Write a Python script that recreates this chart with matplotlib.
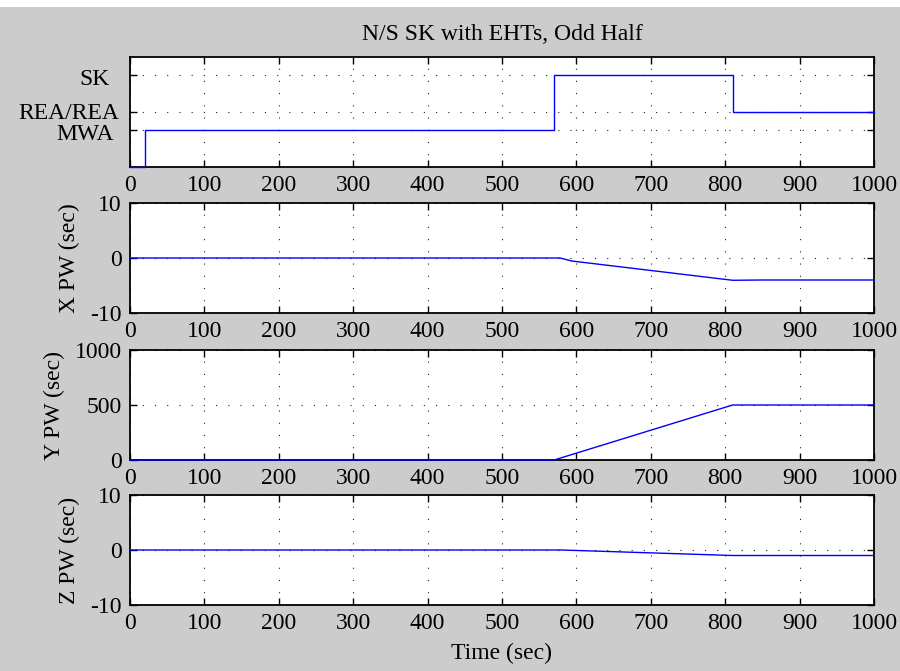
import matplotlib.pyplot as plt
import matplotlib.transforms as mtransforms
import numpy as np
from matplotlib.patches import Rectangle

plt.rcParams["font.family"] = ["Liberation Serif", "DejaVu Serif"]
plt.rcParams["font.size"] = 17
plt.rcParams["axes.unicode_minus"] = False

# mode trace (step): 0 -> MWA -> SK -> REA/REA
mode_t = [0, 20, 20, 570, 570, 810, 810, 1000]
mode_v = [0, 0, 2, 2, 5, 5, 3, 3]
mode_ticks = [2, 3, 5]
mode_labels = ["MWA", "REA/REA", "SK"]

# X PW (sec)
x_t = [0, 578, 594, 810, 850, 1000]
x_v = [0, 0, -0.55, -4.05, -4.0, -4.0]

# Y PW (sec)
y_t = [0, 570, 810, 1000]
y_v = [0, 0, 500, 500]

# Z PW (sec)
z_t = [0, 580, 810, 1000]
z_v = [0, 0, -1.0, -1.0]

xticks = list(range(0, 1001, 100))

W, H = 900, 671
fig = plt.figure(figsize=(W / 100, H / 100), dpi=100, facecolor="#cccccc")
fig.patches.append(Rectangle((0, 1 - 7 / H), 1, 7 / H, transform=fig.transFigure,
                             facecolor="white", edgecolor="none", zorder=-1))

left, right = 130 / W, 874 / W
boxes = [(57, 167), (203, 313), (350, 460), (495, 605)]
axes = []
for top, bot in boxes:
    ax = fig.add_axes([left, 1 - bot / H, right - left, (bot - top) / H])
    axes.append(ax)

series = [
    (mode_t, mode_v, (0, 6), mode_ticks, None),
    (x_t, x_v, (-10, 10), [-10, 0, 10], "X PW (sec)"),
    (y_t, y_v, (0, 1000), [0, 500, 1000], "Y PW (sec)"),
    (z_t, z_v, (-10, 10), [-10, 0, 10], "Z PW (sec)"),
]

for ax, (t, v, ylim, yt, lab) in zip(axes, series):
    ax.plot(t, v, color="blue", lw=1.0, zorder=3, clip_on=False)
    ax.set_xlim(0, 1000)
    ax.set_ylim(*ylim)
    ax.set_xticks(xticks)
    ax.set_yticks(yt)
    ax.grid(True, color="#222222", lw=0.8, linestyle=(0, (1, 10)))
    ax.tick_params(direction="in", length=5, width=1, top=True, right=True)
    ax.tick_params(axis="x", pad=6)
    ax.tick_params(axis="y", pad=6)
    for s in ax.spines.values():
        s.set_linewidth(1.3)
    if lab:
        ax.set_ylabel(lab, labelpad=7)

axes[0].set_yticklabels(mode_labels)
# MATLAB-ish ragged placement of the mode labels (dx, dy in px)
shifts = {"MWA": (-8, -2), "REA/REA": (-2, 1), "SK": (-12, -2)}
for lbl in axes[0].get_yticklabels():
    dx, dy = shifts[lbl.get_text()]
    lbl.set_transform(lbl.get_transform() +
                      mtransforms.ScaledTranslation(dx / 100, dy / 100, fig.dpi_scale_trans))

axes[0].set_title("N/S SK with EHTs, Odd Half", fontsize=17, pad=12)
axes[3].set_xlabel("Time (sec)", labelpad=6)

fig.savefig("out.png", dpi=100, facecolor=fig.get_facecolor())
